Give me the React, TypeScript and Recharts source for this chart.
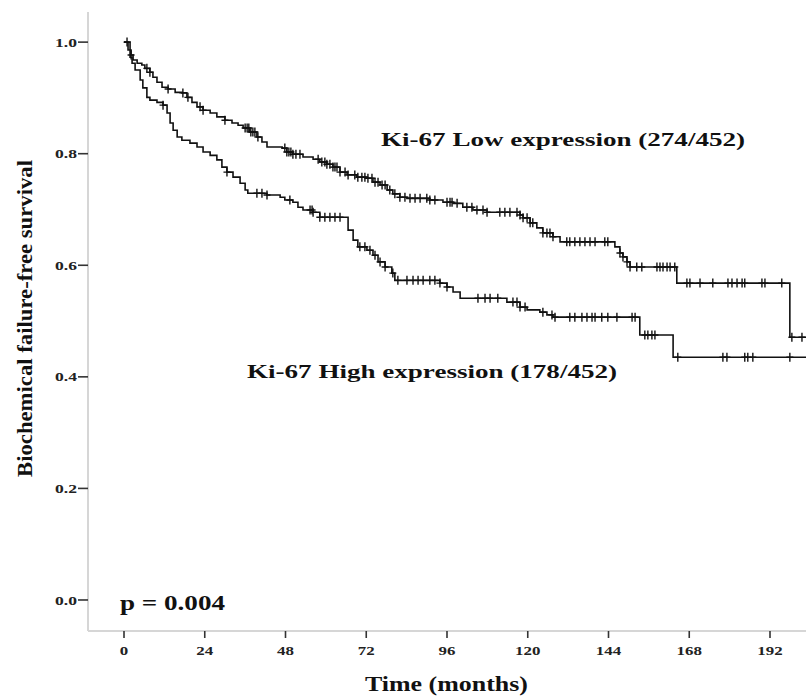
import React from 'react';
import { ComposedChart, Line, Scatter, XAxis, YAxis, Customized } from 'recharts';

// Kaplan-Meier steps: [time (months), survival]
const lowSteps: [number, number][] = [
  [0, 1.0], [1.2, 0.986], [2.1, 0.977], [2.7, 0.968], [3.9, 0.962], [5.3, 0.959], [6.2, 0.953],
  [7.7, 0.946], [8.6, 0.937], [9.8, 0.928], [11.3, 0.919], [13.1, 0.916], [15.2, 0.910],
  [17.2, 0.909], [18.7, 0.901], [20.2, 0.892], [21.7, 0.884], [23.5, 0.878], [25.6, 0.873],
  [27.6, 0.866], [30.0, 0.860], [32.1, 0.855], [33.9, 0.851], [35.4, 0.846], [37.4, 0.839],
  [39.5, 0.830], [41.0, 0.821], [42.5, 0.812], [47.0, 0.810], [48.4, 0.803], [50.2, 0.799],
  [53.2, 0.794], [56.2, 0.790], [58.2, 0.785], [60.3, 0.781], [62.1, 0.776], [64.2, 0.767],
  [66.3, 0.762], [69.2, 0.758], [72.2, 0.756], [74.0, 0.749], [76.1, 0.744], [78.2, 0.735],
  [79.9, 0.728], [82.0, 0.722], [84.1, 0.720], [90.9, 0.717], [94.8, 0.713], [97.8, 0.711],
  [100.7, 0.704], [103.7, 0.699], [107.9, 0.695], [117.7, 0.690], [118.6, 0.685], [120.7, 0.676],
  [122.7, 0.667], [124.5, 0.658], [127.5, 0.651], [129.6, 0.642], [145.9, 0.633], [147.4, 0.622],
  [148.3, 0.615], [149.5, 0.606], [150.4, 0.597], [164.3, 0.568], [197.9, 0.471], [202.7, 0.471],
];

const highSteps: [number, number][] = [
  [0, 1.0], [1.8, 0.973], [2.4, 0.962], [3.3, 0.950], [4.8, 0.932], [5.6, 0.918], [6.8, 0.901],
  [7.7, 0.896], [9.8, 0.892], [11.6, 0.887], [12.8, 0.873], [13.7, 0.855], [14.6, 0.842],
  [15.8, 0.830], [17.2, 0.824], [19.6, 0.819], [21.7, 0.812], [23.5, 0.803], [25.6, 0.797],
  [27.6, 0.789], [29.1, 0.776], [30.6, 0.767], [32.4, 0.758], [34.5, 0.747], [36.0, 0.735],
  [36.8, 0.729], [42.5, 0.726], [46.4, 0.722], [47.8, 0.717], [50.2, 0.713], [51.7, 0.704],
  [53.2, 0.699], [56.2, 0.695], [58.2, 0.686], [66.6, 0.663], [68.1, 0.645], [69.5, 0.633],
  [72.2, 0.627], [74.0, 0.618], [75.5, 0.606], [77.6, 0.597], [79.6, 0.586], [80.5, 0.573],
  [93.9, 0.568], [96.0, 0.561], [97.8, 0.552], [99.9, 0.541], [113.8, 0.534], [117.7, 0.525],
  [119.8, 0.520], [123.6, 0.516], [125.7, 0.511], [127.5, 0.507], [153.3, 0.475], [163.2, 0.435],
  [202.7, 0.435],
];

// Censoring times (months)
const lowCensored: number[] = [
  0.9, 2.1, 6.8, 7.7, 13.1, 17.5, 19.0, 22.6, 23.5, 30.0, 36.0, 36.6, 37.1, 37.7, 38.3, 38.9, 39.8,
  47.8, 48.4, 49.0, 49.6, 50.2, 51.1, 52.3, 57.7, 58.8, 59.7, 60.3, 61.2, 62.1, 62.7, 63.3, 64.2,
  65.7, 66.6, 68.6, 69.5, 70.7, 71.6, 72.5, 73.7, 74.6, 75.5, 76.7, 77.6, 79.0, 80.5, 82.0, 83.5,
  85.0, 86.5, 88.0, 90.0, 90.9, 92.4, 96.0, 96.9, 97.5, 99.0, 101.9, 103.4, 104.9, 106.7, 107.9,
  111.7, 113.2, 114.7, 116.8, 117.7, 118.6, 119.8, 120.7, 121.5, 124.5, 125.7, 126.6, 127.5,
  131.6, 132.5, 134.0, 135.5, 137.0, 138.5, 140.0, 142.9, 143.8, 147.4, 148.3, 149.5, 150.4,
  152.4, 153.9, 158.4, 159.3, 160.2, 161.4, 162.3, 163.7, 167.3, 168.2, 171.2, 175.0, 179.5,
  180.7, 182.2, 183.7, 184.5, 189.6, 190.5, 195.5, 198.5, 201.5,
];

const highCensored: number[] = [
  11.6, 30.6, 39.5, 41.0, 42.5, 49.3, 55.3, 55.9, 56.2, 58.2, 59.7, 61.2, 62.7, 64.2, 70.1, 71.6,
  73.1, 74.6, 76.1, 77.6, 79.9, 81.4, 84.1, 85.9, 87.4, 88.9, 90.9, 92.4, 93.9, 96.0, 105.2, 107.3,
  108.8, 111.1, 115.6, 116.8, 117.7, 119.2, 124.5, 127.2, 128.1, 132.5, 134.0, 136.1, 137.6,
  139.1, 140.0, 142.0, 143.8, 146.5, 151.0, 151.9, 154.8, 155.7, 156.9, 157.8, 164.6, 178.0,
  179.2, 184.5, 185.4, 186.9, 197.9,
];

const xTicks = [0, 24, 48, 72, 96, 120, 144, 168, 192];
const yTicks = [0, 0.2, 0.4, 0.6, 0.8, 1.0];

const lowLabel = 'Ki-67 Low expression (274/452)';
const highLabel = 'Ki-67 High expression (178/452)';
const pLabel = 'p = 0.004';
const xLabel = 'Time (months)';
const yLabel = 'Biochemical failure-free survival';

const FONT = "'Liberation Serif', 'Times New Roman', Times, serif";

const toPoints = (steps: [number, number][]) => steps.map(([t, s]) => ({ t, s }));
const survAt = (steps: [number, number][], t: number) => {
  let v = steps[0][1];
  for (const [st, s] of steps) {
    if (st <= t) v = s;
    else break;
  }
  return v;
};
const censorPoints = (steps: [number, number][], times: number[]) =>
  times.map((t) => ({ t, s: survAt(steps, t) }));

const lowData = toPoints(lowSteps);
const highData = toPoints(highSteps);
const lowCens = censorPoints(lowSteps, lowCensored);
const highCens = censorPoints(highSteps, highCensored);

const Plus = (props: any) => {
  const { cx, cy } = props;
  if (cx == null || cy == null) return null;
  return (
    <path
      d={`M${cx - 3.5},${cy}h7M${cx},${cy - 4.5}v9`}
      stroke="#111"
      strokeWidth={1.4}
      fill="none"
    />
  );
};

const YTick = (props: any) => {
  const { x, y, payload } = props;
  return (
    <text
      transform={`translate(${x},${y}) scale(1.35,1)`}
      textAnchor="end"
      dy="0.35em"
      fontFamily={FONT}
      fontWeight="bold"
      fontSize={13}
      fill="#222"
    >
      {Number(payload.value).toFixed(1)}
    </text>
  );
};

const XTick = (props: any) => {
  const { x, y, payload } = props;
  return (
    <text
      transform={`translate(${x},${y}) scale(1.3,1)`}
      textAnchor="middle"
      dy={15}
      fontFamily={FONT}
      fontWeight="bold"
      fontSize={13}
      fill="#222"
    >
      {payload.value}
    </text>
  );
};

const Annotations = () => (
  <g fontFamily={FONT} fontWeight="bold" fill="#111">
    <text x={381} y={146} fontSize={19} textLength={364} lengthAdjust="spacingAndGlyphs">
      {lowLabel}
    </text>
    <text x={247} y={378} fontSize={19} textLength={370} lengthAdjust="spacingAndGlyphs">
      {highLabel}
    </text>
    <text x={120} y={610} fontSize={20} textLength={105} lengthAdjust="spacingAndGlyphs">
      {pLabel}
    </text>
    <text x={365} y={691} fontSize={20} textLength={163} lengthAdjust="spacingAndGlyphs">
      {xLabel}
    </text>
    <text
      transform="translate(32,477) rotate(-90)"
      x={0}
      y={0}
      fontSize={22}
      textLength={317}
      lengthAdjust="spacingAndGlyphs"
    >
      {yLabel}
    </text>
  </g>
);

export default function App() {
  return (
    <div style={{ position: 'absolute', left: 0, top: 0, background: '#fff' }}>
      <ComposedChart width={806} height={698} margin={{ top: 12, right: 0, bottom: 0, left: 0 }}>
        <XAxis
          type="number"
          dataKey="t"
          domain={[-10.7, 202.7]}
          allowDataOverflow
          ticks={xTicks}
          interval={0}
          height={67}
          tickSize={7}
          axisLine={{ stroke: '#d6d6d6', strokeWidth: 2 }}
          tickLine={{ stroke: '#333', strokeWidth: 1.6 }}
          tick={<XTick />}
        />
        <YAxis
          type="number"
          dataKey="s"
          domain={[-0.0556, 1.054]}
          allowDataOverflow
          ticks={yTicks}
          interval={0}
          width={88}
          tickSize={10}
          tickMargin={1}
          axisLine={{ stroke: '#d6d6d6', strokeWidth: 2 }}
          tickLine={{ stroke: '#333', strokeWidth: 1.6 }}
          tick={<YTick />}
        />
        <Line
          data={lowData}
          dataKey="s"
          type="stepAfter"
          stroke="#111"
          strokeWidth={1.6}
          dot={false}
          isAnimationActive={false}
        />
        <Line
          data={highData}
          dataKey="s"
          type="stepAfter"
          stroke="#111"
          strokeWidth={1.6}
          dot={false}
          isAnimationActive={false}
        />
        <Scatter data={lowCens} dataKey="s" shape={<Plus />} isAnimationActive={false} />
        <Scatter data={highCens} dataKey="s" shape={<Plus />} isAnimationActive={false} />
        <Customized component={<Annotations />} />
      </ComposedChart>
    </div>
  );
}
